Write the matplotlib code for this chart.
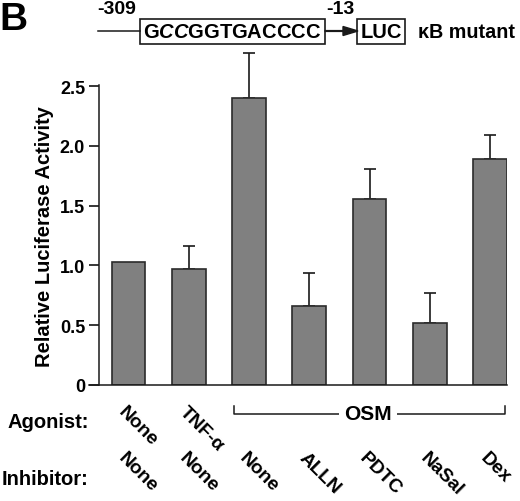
import matplotlib
matplotlib.use("Agg")
import matplotlib.pyplot as plt
import matplotlib.transforms as mtransforms
from matplotlib.patches import Rectangle, FancyArrow

plt.rcParams["font.family"] = ["Liberation Sans", "DejaVu Sans"]
plt.rcParams["font.weight"] = "bold"
plt.rcParams["mathtext.fontset"] = "custom"
plt.rcParams["mathtext.rm"] = "Liberation Sans:bold"
plt.rcParams["mathtext.it"] = "Liberation Sans:italic:bold"

# data
agonist = ["None", "TNF-\u03b1", "None", "None", "None", "None", "None"]
inhibitor = ["None", "None", "None", "ALLN", "PDTC", "NaSal", "Dex"]
activity = [1.03, 0.97, 2.40, 0.66, 1.56, 0.52, 1.89]
sem = [0.0, 0.19, 0.38, 0.28, 0.25, 0.25, 0.20]
yticks = [0, 0.5, 1.0, 1.5, 2.0, 2.5]
ytick_labels = ["0", "0.5", "1.0", "1.5", "2.0", "2.5"]

W, H = 520, 502
fig = plt.figure(figsize=(W / 100, H / 100), dpi=100)
ax = fig.add_axes([99 / W, 1 - 386 / H, 408 / W, 300 / H])

x = list(range(len(activity)))
ax.bar(x, activity, width=0.56, color="#808080", edgecolor="#2b2b2b", linewidth=1.2, zorder=2)

has_err = [i for i in x if sem[i] > 0]
eb = ax.errorbar([x[i] for i in has_err], [activity[i] for i in has_err],
                 yerr=[[0] * len(has_err), [sem[i] for i in has_err]],
                 fmt="none", ecolor="#1a1a1a", elinewidth=1.2, capsize=4, capthick=1.2, zorder=1)
for part in eb.get_children():
    part.set_clip_on(False)

ax.set_xlim(-0.49, 6.28)
ax.set_ylim(0, 2.51)
ax.set_yticks(yticks)
ax.set_yticklabels(ytick_labels, fontsize=13, fontweight="bold")
ax.set_xticks([])
ax.tick_params(axis="y", direction="out", length=7, width=1.1, pad=3)
for side in ("top", "right"):
    ax.spines[side].set_visible(False)
for side in ("left", "bottom"):
    ax.spines[side].set_linewidth(1.1)
    ax.spines[side].set_color("#1a1a1a")
# bottom line reaches the 0 tick on the left
ax.spines["bottom"].set_bounds(-0.49 - 10 / 60.3, 6.28)
ax.spines["bottom"].set_clip_on(False)

fig.text(45 / W, 1 - 237 / H, "Relative Luciferase Activity", rotation=90,
         ha="center", va="center", fontsize=14.5, fontweight="bold")

# category labels under the bars
trans = mtransforms.blended_transform_factory(ax.transData, fig.transFigure)
for i in x:
    if i < 2:
        ax.text(i - 0.02, 1 - 404 / H, agonist[i], transform=trans, rotation=-45,
                rotation_mode="anchor", ha="left", va="top", fontsize=13.8, fontweight="bold")
    ax.text(i - 0.02, 1 - 450 / H, inhibitor[i], transform=trans, rotation=-45,
            rotation_mode="anchor", ha="left", va="top", fontsize=13.8, fontweight="bold")

fig.text(7 / W, 1 - 423 / H, "Agonist:", ha="left", va="center", fontsize=14.5, fontweight="bold")
fig.text(2 / W, 1 - 480 / H, "Inhibitor:", ha="left", va="center", fontsize=14.5, fontweight="bold")

# OSM bracket
y_br, y_tip = 1 - 415 / H, 1 - 407 / H
ax.plot([1.75, 1.75, 6.25, 6.25], [y_tip, y_br, y_br, y_tip], transform=trans,
        color="#1a1a1a", linewidth=1.1, clip_on=False)
ax.text(3.98, y_br, "OSM", transform=trans, ha="center", va="center", fontsize=15,
        fontweight="bold", bbox=dict(boxstyle="square,pad=0.25", fc="white", ec="none"))

# promoter schematic on a pixel overlay
top = fig.add_axes([0, 0, 1, 1], facecolor="none")
top.set_xlim(0, W)
top.set_ylim(H, 0)
top.axis("off")
top.text(-1, 2, "B", ha="left", va="top", fontsize=28, fontweight="bold")
top.text(117, 9, "-309", ha="center", va="center", fontsize=14, fontweight="bold")
top.text(340, 9, "-13", ha="center", va="center", fontsize=14, fontweight="bold")
top.plot([98, 140], [32, 32], color="#1a1a1a", linewidth=1.1)
top.add_patch(Rectangle((140, 20), 185, 25, fill=False, ec="#1a1a1a", lw=1.2))
top.text(232.5, 33, r"$\mathrm{G}\mathit{CC}\mathrm{GGTGACCCC}$", ha="center", va="center", fontsize=14.5)
top.add_patch(FancyArrow(325, 32, 33, 0, width=0.8, head_width=9, head_length=15,
                         length_includes_head=True, color="#1a1a1a"))
top.add_patch(Rectangle((357, 20), 48, 25, fill=False, ec="#1a1a1a", lw=1.2))
top.text(381, 33, "LUC", ha="center", va="center", fontsize=14.5, fontweight="bold")
top.text(418, 33, "\u03baB mutant", ha="left", va="center", fontsize=14.2, fontweight="bold")

fig.savefig("out.png", dpi=100)
